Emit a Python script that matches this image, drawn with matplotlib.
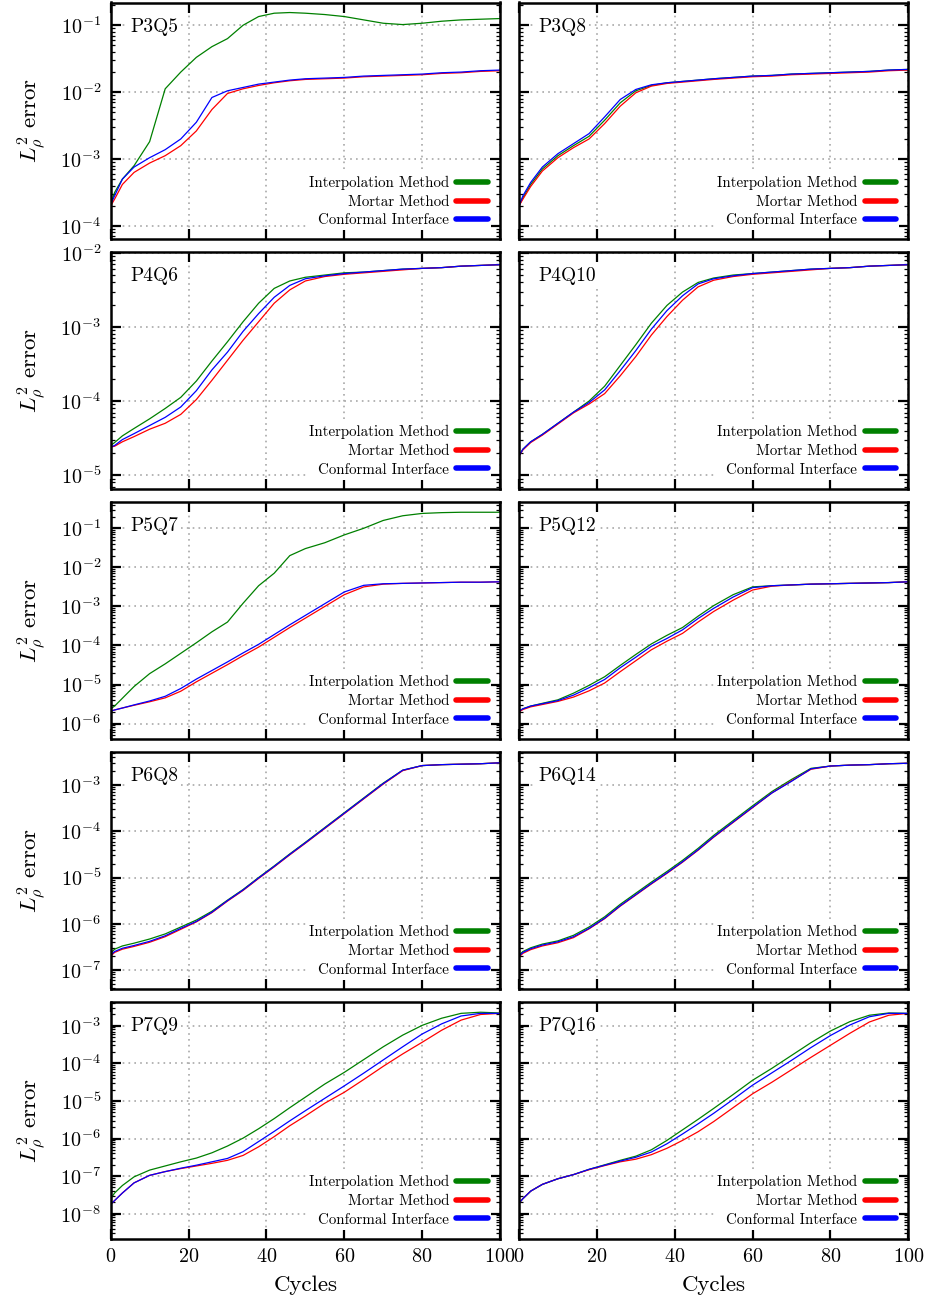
import numpy as np
import matplotlib
matplotlib.use("Agg")
import matplotlib.pyplot as plt
from matplotlib.ticker import LogLocator, NullFormatter

CYCLES = [0, 1, 3, 6, 10, 14, 18, 22, 26, 30, 34, 38, 42, 46, 50,
          55, 60, 65, 70, 75, 80, 85, 90, 95, 100]

# log10 of the L2 density error, one list per method and case
p3q5_interp = [-3.68, -3.5, -3.3, -3.1, -2.74, -1.95, -1.7, -1.48, -1.32, -1.2, -1.0, -0.87, -0.82,
               -0.81, -0.82, -0.84, -0.87, -0.92, -0.97, -0.99, -0.97, -0.94, -0.92, -0.91, -0.9]
p3q5_mortar = [-3.7, -3.6, -3.38, -3.2, -3.06, -2.95, -2.8, -2.58, -2.26, -2.02, -1.95, -1.9, -1.86,
               -1.83, -1.81, -1.8, -1.79, -1.77, -1.76, -1.75, -1.74, -1.72, -1.71, -1.69, -1.68]
p3q5_conf = [-3.68, -3.55, -3.3, -3.12, -2.98, -2.86, -2.7, -2.45, -2.08, -1.98, -1.93, -1.88, -1.85,
             -1.82, -1.8, -1.79, -1.78, -1.76, -1.75, -1.74, -1.73, -1.71, -1.7, -1.68, -1.67]

p3q8_interp = [-3.7, -3.58, -3.38, -3.15, -2.95, -2.8, -2.66, -2.42, -2.16, -1.98, -1.9, -1.86, -1.84,
               -1.82, -1.8, -1.78, -1.76, -1.75, -1.73, -1.72, -1.71, -1.7, -1.69, -1.67, -1.66]
p3q8_mortar = [-3.7, -3.6, -3.41, -3.18, -2.98, -2.83, -2.7, -2.47, -2.21, -2.01, -1.91, -1.87, -1.85,
               -1.83, -1.81, -1.79, -1.77, -1.76, -1.74, -1.73, -1.72, -1.71, -1.7, -1.68, -1.67]
p3q8_conf = [-3.7, -3.55, -3.35, -3.12, -2.92, -2.77, -2.62, -2.37, -2.11, -1.96, -1.89, -1.86, -1.84,
             -1.82, -1.8, -1.78, -1.76, -1.75, -1.73, -1.72, -1.71, -1.7, -1.69, -1.67, -1.66]

p4q6_interp = [-4.6, -4.56, -4.47, -4.37, -4.24, -4.1, -3.95, -3.73, -3.46, -3.2, -2.93, -2.68, -2.48,
               -2.38, -2.33, -2.3, -2.27, -2.26, -2.24, -2.22, -2.21, -2.2, -2.18, -2.17, -2.16]
p4q6_mortar = [-4.62, -4.61, -4.55, -4.48, -4.38, -4.3, -4.18, -3.98, -3.72, -3.45, -3.18, -2.93, -2.68,
               -2.5, -2.38, -2.32, -2.29, -2.27, -2.25, -2.23, -2.21, -2.2, -2.18, -2.17, -2.16]
p4q6_conf = [-4.62, -4.6, -4.52, -4.44, -4.33, -4.22, -4.08, -3.86, -3.58, -3.34, -3.06, -2.82, -2.6,
             -2.44, -2.35, -2.31, -2.28, -2.26, -2.24, -2.22, -2.21, -2.2, -2.18, -2.17, -2.16]

p4q10_interp = [-4.74, -4.65, -4.55, -4.45, -4.3, -4.15, -4.0, -3.8, -3.52, -3.24, -2.95, -2.71, -2.53,
                -2.4, -2.34, -2.3, -2.28, -2.26, -2.24, -2.22, -2.21, -2.2, -2.18, -2.17, -2.16]
p4q10_mortar = [-4.74, -4.66, -4.56, -4.46, -4.31, -4.16, -4.04, -3.9, -3.66, -3.4, -3.11, -2.86, -2.64,
                -2.46, -2.37, -2.32, -2.29, -2.27, -2.25, -2.23, -2.21, -2.2, -2.18, -2.17, -2.16]
p4q10_conf = [-4.74, -4.65, -4.55, -4.45, -4.3, -4.15, -4.02, -3.85, -3.59, -3.32, -3.03, -2.78, -2.58,
              -2.42, -2.35, -2.31, -2.28, -2.26, -2.24, -2.22, -2.21, -2.2, -2.18, -2.17, -2.16]

p5q7_interp = [-5.62, -5.55, -5.35, -5.05, -4.72, -4.47, -4.2, -3.93, -3.65, -3.4, -2.92, -2.47, -2.15,
               -1.7, -1.52, -1.37, -1.17, -1.0, -0.8, -0.68, -0.62, -0.6, -0.59, -0.59, -0.59]
p5q7_mortar = [-5.68, -5.65, -5.6, -5.53, -5.44, -5.34, -5.17, -4.93, -4.71, -4.49, -4.26, -4.04, -3.79,
               -3.54, -3.3, -3.0, -2.7, -2.5, -2.43, -2.41, -2.4, -2.39, -2.38, -2.38, -2.37]
p5q7_conf = [-5.68, -5.65, -5.6, -5.52, -5.42, -5.3, -5.1, -4.86, -4.64, -4.42, -4.19, -3.97, -3.72,
             -3.47, -3.23, -2.93, -2.63, -2.46, -2.42, -2.41, -2.4, -2.39, -2.38, -2.38, -2.37]

p5q12_interp = [-5.68, -5.62, -5.55, -5.48, -5.39, -5.22, -5.02, -4.8, -4.51, -4.23, -3.96, -3.74, -3.54,
                -3.25, -2.98, -2.7, -2.5, -2.47, -2.45, -2.43, -2.42, -2.41, -2.4, -2.39, -2.37]
p5q12_mortar = [-5.7, -5.64, -5.57, -5.51, -5.43, -5.32, -5.16, -4.96, -4.67, -4.39, -4.11, -3.89, -3.69,
                -3.4, -3.13, -2.84, -2.58, -2.48, -2.45, -2.43, -2.42, -2.41, -2.4, -2.39, -2.37]
p5q12_conf = [-5.68, -5.62, -5.55, -5.49, -5.41, -5.27, -5.08, -4.87, -4.57, -4.3, -4.02, -3.82, -3.6,
              -3.31, -3.05, -2.76, -2.52, -2.47, -2.45, -2.43, -2.42, -2.41, -2.4, -2.39, -2.37]

p6q8_interp = [-6.64, -6.55, -6.48, -6.42, -6.33, -6.22, -6.07, -5.92, -5.73, -5.49, -5.26, -5.0, -4.75,
               -4.49, -4.24, -3.92, -3.6, -3.28, -2.96, -2.68, -2.58, -2.56, -2.55, -2.54, -2.52]
p6q8_mortar = [-6.7, -6.62, -6.55, -6.49, -6.4, -6.28, -6.12, -5.96, -5.76, -5.51, -5.28, -5.02, -4.77,
               -4.51, -4.26, -3.94, -3.62, -3.3, -2.98, -2.69, -2.58, -2.56, -2.55, -2.54, -2.52]
p6q8_conf = [-6.68, -6.6, -6.53, -6.47, -6.38, -6.26, -6.1, -5.95, -5.75, -5.5, -5.27, -5.01, -4.76,
             -4.5, -4.25, -3.93, -3.61, -3.29, -2.97, -2.68, -2.58, -2.56, -2.55, -2.54, -2.52]

p6q14_interp = [-6.68, -6.6, -6.52, -6.44, -6.37, -6.25, -6.07, -5.85, -5.58, -5.34, -5.1, -4.87, -4.63,
                -4.37, -4.09, -3.77, -3.45, -3.14, -2.88, -2.64, -2.59, -2.57, -2.56, -2.54, -2.53]
p6q14_mortar = [-6.72, -6.64, -6.56, -6.48, -6.41, -6.3, -6.11, -5.89, -5.62, -5.38, -5.14, -4.91, -4.67,
                -4.41, -4.13, -3.81, -3.49, -3.17, -2.91, -2.66, -2.59, -2.57, -2.56, -2.54, -2.53]
p6q14_conf = [-6.7, -6.62, -6.54, -6.46, -6.39, -6.28, -6.1, -5.88, -5.61, -5.37, -5.13, -4.9, -4.66,
              -4.4, -4.12, -3.8, -3.48, -3.17, -2.92, -2.65, -2.59, -2.57, -2.56, -2.54, -2.53]

p7q9_interp = [-7.6, -7.45, -7.25, -7.02, -6.84, -6.73, -6.62, -6.52, -6.38, -6.2, -5.99, -5.74, -5.47,
               -5.18, -4.9, -4.55, -4.24, -3.9, -3.56, -3.25, -2.99, -2.8, -2.67, -2.64, -2.66]
p7q9_mortar = [-7.75, -7.65, -7.45, -7.18, -6.98, -6.88, -6.8, -6.73, -6.66, -6.58, -6.45, -6.22, -5.95,
               -5.66, -5.4, -5.06, -4.77, -4.43, -4.08, -3.75, -3.44, -3.12, -2.85, -2.7, -2.67]
p7q9_conf = [-7.75, -7.65, -7.45, -7.18, -6.98, -6.88, -6.79, -6.71, -6.62, -6.53, -6.35, -6.08, -5.81,
             -5.53, -5.26, -4.93, -4.6, -4.26, -3.91, -3.56, -3.22, -2.95, -2.74, -2.67, -2.67]

p7q16_interp = [-7.72, -7.6, -7.4, -7.22, -7.07, -6.96, -6.82, -6.7, -6.58, -6.47, -6.3, -6.05, -5.77,
                -5.49, -5.2, -4.83, -4.45, -4.13, -3.79, -3.45, -3.14, -2.89, -2.72, -2.66, -2.67]
p7q16_mortar = [-7.72, -7.6, -7.4, -7.22, -7.07, -6.96, -6.83, -6.72, -6.62, -6.55, -6.43, -6.26, -6.05,
                -5.82, -5.55, -5.18, -4.81, -4.5, -4.17, -3.84, -3.52, -3.2, -2.9, -2.72, -2.67]
p7q16_conf = [-7.72, -7.6, -7.4, -7.22, -7.07, -6.96, -6.82, -6.71, -6.6, -6.5, -6.36, -6.14, -5.88,
              -5.61, -5.33, -4.96, -4.58, -4.25, -3.92, -3.58, -3.26, -2.98, -2.76, -2.67, -2.67]

CASE_NAMES = [["P3Q5", "P3Q8"], ["P4Q6", "P4Q10"], ["P5Q7", "P5Q12"],
              ["P6Q8", "P6Q14"], ["P7Q9", "P7Q16"]]
CASE_DATA = [[(p3q5_interp, p3q5_mortar, p3q5_conf), (p3q8_interp, p3q8_mortar, p3q8_conf)],
             [(p4q6_interp, p4q6_mortar, p4q6_conf), (p4q10_interp, p4q10_mortar, p4q10_conf)],
             [(p5q7_interp, p5q7_mortar, p5q7_conf), (p5q12_interp, p5q12_mortar, p5q12_conf)],
             [(p6q8_interp, p6q8_mortar, p6q8_conf), (p6q14_interp, p6q14_mortar, p6q14_conf)],
             [(p7q9_interp, p7q9_mortar, p7q9_conf), (p7q16_interp, p7q16_mortar, p7q16_conf)]]
# log10 y-limits for each row (rows share the y range)
ROW_YLIM = [(-4.2, -0.66), (-5.18, -1.985), (-6.38, -0.32), (-7.4, -2.28), (-8.66, -2.36)]

LABELS = ["Interpolation Method", "Mortar Method", "Conformal Interface"]
COLORS = ["#008000", "#ff0000", "#0000ff"]

plt.rcParams.update({
    "font.family": "serif",
    "font.serif": ["cmr10"],
    "mathtext.fontset": "cm",
    "axes.formatter.use_mathtext": True,
    "axes.unicode_minus": False,
})

W, H = 929, 1301
fig = plt.figure(figsize=(W / 100, H / 100), dpi=100)

# axes placement in pixels
col_left = [110.7, 519.0]
ax_w = 389.3
row_top = [2.5, 251.7, 501.7, 751.7, 1001.7]
ax_h = 236.8

for i in range(5):
    for j in range(2):
        ax = fig.add_axes([col_left[j] / W, 1 - (row_top[i] + ax_h) / H, ax_w / W, ax_h / H])
        for vals, color, label in zip(CASE_DATA[i][j], COLORS, LABELS):
            ax.plot(CYCLES, 10 ** np.array(vals), color=color, lw=0.9, label=label)

        ax.set_yscale("log")
        ax.set_xlim(0, 100)
        ax.set_ylim(10 ** ROW_YLIM[i][0], 10 ** ROW_YLIM[i][1])
        ax.set_xticks(range(0, 101, 20))
        ax.yaxis.set_major_locator(LogLocator(base=10, numticks=20))
        ax.yaxis.set_minor_locator(LogLocator(base=10, subs=np.arange(2, 10), numticks=20))
        ax.yaxis.set_minor_formatter(NullFormatter())

        ax.tick_params(which="both", direction="in", top=True, right=True)
        ax.tick_params(which="major", length=7, width=1.6, labelsize=14.5, pad=7)
        ax.tick_params(which="minor", length=3, width=0.9)
        ax.grid(True, which="major", linestyle=(0, (1, 2.5)), color="#a8a8a8", lw=1.2)
        for sp in ax.spines.values():
            sp.set_linewidth(1.8)

        if j == 1:
            ax.tick_params(labelleft=False)
        else:
            ax.set_ylabel(r"$L^2_\rho$ error", fontsize=16.5, labelpad=9)
        if i < 4:
            ax.tick_params(labelbottom=False)
        else:
            ax.set_xlabel("Cycles", fontsize=16.5, labelpad=7)

        ax.text(0.05, 0.897, CASE_NAMES[i][j], transform=ax.transAxes, fontsize=14,
                va="center", ha="left",
                bbox=dict(facecolor="white", edgecolor="none", pad=1.5))

        leg = ax.legend(loc="lower right", markerfirst=False, fontsize=10.8,
                        handlelength=2.1, handletextpad=0.5, labelspacing=0.32,
                        borderpad=0.2, borderaxespad=0.6, frameon=True,
                        fancybox=False, framealpha=1, edgecolor="none")
        for h in leg.legend_handles:
            h.set_linewidth(4)
            h.set_solid_capstyle("round")

fig.savefig("out.png", dpi=100)
